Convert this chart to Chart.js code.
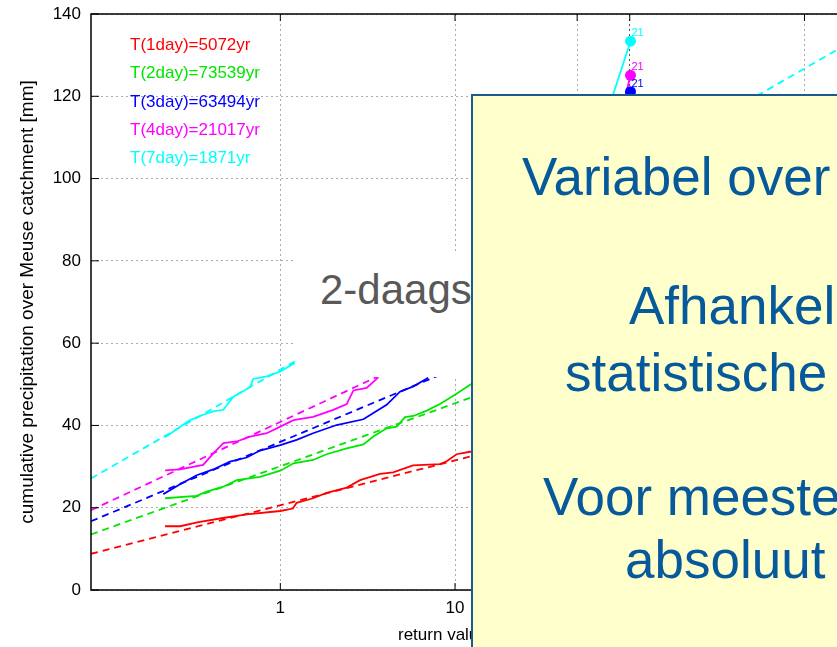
<!DOCTYPE html>
<html>
<head>
<meta charset="utf-8">
<script src="https://cdn.jsdelivr.net/npm/chart.js@4/dist/chart.umd.min.js"></script>
<style>
html, body { margin: 0; padding: 0; background: #fff; overflow: hidden; }
#wrap { position: relative; width: 837px; height: 647px; overflow: hidden; }
#chart { position: absolute; left: 0; top: 0; }
.cover { position: absolute; left: 295px; top: 251px; width: 200px; height: 126px; background: #fff; }
.note { position: absolute; left: 320px; top: 269px; font: 42px "Liberation Sans", Arial, sans-serif; line-height: 1; color: #595959; white-space: nowrap; }
.box { position: absolute; left: 471px; top: 94px; width: 420px; height: 600px; background: #ffffcc; border: 2px solid #1b5a8c; box-sizing: border-box; }
.t { position: absolute; font: 53px "Liberation Sans", Arial, sans-serif; line-height: 1; color: #06599a; white-space: nowrap; }
</style>
</head>
<body>
<div id="wrap">
  <canvas id="chart" width="850" height="647"></canvas>
  <div class="cover"></div>
  <div class="note">2-daags</div>
  <div class="box"></div>
  <div class="t" style="left:522px;top:150px">Variabel over</div>
  <div class="t" style="left:629px;top:279px">Afhankel</div>
  <div class="t" style="left:565px;top:346px">statistische</div>
  <div class="t" style="left:543px;top:470px">Voor meeste</div>
  <div class="t" style="left:625px;top:533px">absoluut</div>
</div>
<script>
Chart.defaults.font.family = "'Liberation Sans', Arial, sans-serif";
Chart.defaults.color = "#000";

const xMin = 0.0825, xMax = 1640;
const xTicks = [1, 10, 50, 100, 1000];
const xTickLabels = ["1", "10", "", "100", "1000"];

// empirical (solid) curves
const red1X = [0.219, 0.267, 0.34, 0.47, 0.642, 1.0, 1.18, 1.24, 1.54, 1.84, 2.4, 2.86, 3.72, 4.42, 5.75, 8.2, 8.96, 10.2, 12.2, 13];
const red1Y = [15.5, 15.5, 16.5, 17.5, 18.4, 19.2, 19.8, 21.2, 22.3, 23.6, 24.9, 26.7, 28.2, 28.6, 30.3, 30.6, 31.3, 33, 33.6, 34];
const green2X = [0.219, 0.332, 0.379, 0.472, 0.563, 0.765, 1.0, 1.19, 1.54, 1.84, 2.4, 2.99, 3.41, 4.06, 4.64, 5.17, 5.78, 6.89, 8.2, 10.2, 12.2, 13];
const green2Y = [22.3, 22.9, 23.9, 25.1, 26.7, 27.5, 29.0, 30.8, 31.6, 33.0, 34.4, 35.4, 37.3, 39.3, 39.7, 42.0, 42.3, 43.6, 45.2, 47.7, 49.9, 50.6];
const blue3X = [0.214, 0.267, 0.332, 0.413, 0.515, 0.643, 0.765, 1.0, 1.24, 1.54, 2.1, 2.99, 3.41, 4.06, 4.84, 5.78, 7.03];
const blue3Y = [23.3, 25.7, 27.9, 29.3, 31.2, 32.2, 33.9, 35.2, 36.5, 38.1, 40.1, 41.5, 43.0, 45.0, 48.2, 49.5, 51.6];
const mag4X = [0.219, 0.267, 0.362, 0.405, 0.472, 0.563, 0.671, 0.836, 1.0, 1.19, 1.54, 2.01, 2.4, 2.62, 3.12, 3.64];
const mag4Y = [29.1, 29.3, 30.4, 32.8, 35.7, 36.1, 37.3, 38.1, 39.7, 41.3, 42.1, 43.8, 45.2, 48.5, 49.1, 51.7];
const cyan7X = [0.219, 0.267, 0.304, 0.362, 0.413, 0.472, 0.538, 0.588, 0.671, 0.70, 0.836, 1.0, 1.21];
const cyan7Y = [37.1, 39.7, 41.3, 42.6, 43.4, 43.8, 47.0, 47.9, 49.3, 51.3, 51.9, 53.1, 55.2];

// fitted (dashed) lines, end points
const fitX = [0.0825, 2000];
const redFitY = [8.8, 56.6];
const greenFitY = [13.5, 80.6];
const blueFitY = [16.7, 94.8];
const magFitY = [19.4, 106.2];
const cyanFitY = [27.1, 134.1];

// the 2021 event ("21") for each duration
const cyan21X = [59.3, 101], cyan21Y = [103.3, 133.4];
const mag21X = [77.4, 101], mag21Y = [104.8, 125.1];
const blue21X = [80, 101], blue21Y = [100, 121.1];

const legendTexts = ["T(1day)=5072yr", "T(2day)=73539yr", "T(3day)=63494yr", "T(4day)=21017yr", "T(7day)=1871yr"];
const RED = "#ff0000", GREEN = "#00e600", BLUE = "#0000ff", MAG = "#ff00ff", CYAN = "#00ffff";
const legendColors = [RED, GREEN, BLUE, MAG, CYAN];

function pts(xs, ys) { return xs.map((x, i) => ({ x: x, y: ys[i] })); }

function solid(xs, ys, c) {
  return { data: pts(xs, ys), borderColor: c, borderWidth: 1.8, pointRadius: 0, tension: 0, fill: false };
}
function dashed(ys, c) {
  return { data: pts(fitX, ys), borderColor: c, borderWidth: 1.8, borderDash: [7, 5], pointRadius: 0, tension: 0, fill: false };
}
function event21(xs, ys, c) {
  return { data: pts(xs, ys), borderColor: c, backgroundColor: c, borderWidth: 1.8, pointRadius: [0, 5.5], pointBorderWidth: 0, tension: 0, fill: false, isEvent: true };
}

const frame = {
  id: "frame",
  afterDatasetsDraw(chart) {
    const { ctx, chartArea: a, scales } = chart;
    ctx.save();
    ctx.strokeStyle = "#000";
    ctx.lineWidth = 1.5;
    ctx.strokeRect(a.left, a.top, a.right - a.left, a.bottom - a.top);
    ctx.lineWidth = 1;
    ctx.beginPath();
    scales.y.ticks.forEach(t => {
      const y = scales.y.getPixelForValue(t.value);
      ctx.moveTo(a.left, y); ctx.lineTo(a.left + 8, y);
    });
    xTicks.forEach(v => {
      const x = scales.x.getPixelForValue(v);
      ctx.moveTo(x, a.top); ctx.lineTo(x, a.top + 7);
      ctx.moveTo(x, a.bottom); ctx.lineTo(x, a.bottom - 7);
    });
    ctx.stroke();

    // legend texts
    ctx.font = "17px 'Liberation Sans', Arial, sans-serif";
    ctx.textBaseline = "alphabetic";
    ctx.textAlign = "left";
    legendTexts.forEach((s, i) => {
      ctx.fillStyle = legendColors[i];
      ctx.fillText(s, a.left + 39, a.top + 36 + i * 28.3);
    });

    // "21" labels at the event points
    ctx.font = "11px 'Liberation Sans', Arial, sans-serif";
    chart.data.datasets.forEach(ds => {
      if (!ds.isEvent) return;
      const p = ds.data[ds.data.length - 1];
      ctx.fillStyle = ds.borderColor;
      ctx.fillText("21", scales.x.getPixelForValue(p.x) + 1, scales.y.getPixelForValue(p.y) - 5);
    });
    ctx.restore();
  }
};

new Chart(document.getElementById("chart"), {
  type: "line",
  data: {
    datasets: [
      event21(blue21X, blue21Y, BLUE),
      event21(mag21X, mag21Y, MAG),
      event21(cyan21X, cyan21Y, CYAN),
      solid(red1X, red1Y, RED),
      solid(green2X, green2Y, GREEN),
      solid(blue3X, blue3Y, BLUE),
      solid(mag4X, mag4Y, MAG),
      solid(cyan7X, cyan7Y, CYAN),
      dashed(redFitY, RED),
      dashed(greenFitY, GREEN),
      dashed(blueFitY, BLUE),
      dashed(magFitY, MAG),
      dashed(cyanFitY, CYAN)
    ]
  },
  options: {
    responsive: false,
    animation: false,
    layout: { padding: { top: 14, right: 8, left: 0, bottom: 0 } },
    plugins: { legend: { display: false }, tooltip: { enabled: false } },
    scales: {
      x: {
        type: "logarithmic",
        min: xMin,
        max: xMax,
        afterBuildTicks: s => { s.ticks = xTicks.map(v => ({ value: v })); },
        afterFit: s => { s.height = 57; },
        ticks: {
          autoSkip: false, maxRotation: 0, padding: 8, font: { size: 17 },
          callback: (v, i) => xTickLabels[i]
        },
        grid: {
          drawTicks: false,
          color: c => (c.tick && c.tick.value === 100) ? "#555" : "#aaa"
        },
        border: { display: false, dash: [2, 3] },
        title: { display: true, text: "return value [year]", font: { size: 17 }, padding: { top: 0, bottom: 1 } }
      },
      y: {
        min: 0,
        max: 140,
        afterFit: s => { s.width = 91; s.paddingTop = 0; s.paddingBottom = 0; },
        ticks: { stepSize: 20, padding: 10, font: { size: 17 } },
        grid: { drawTicks: false, color: "#aaa" },
        border: { display: false, dash: [2, 3] },
        title: { display: true, text: "cumulative precipitation over Meuse catchment [mm]", font: { size: 19 }, padding: { top: 16, bottom: 0 } }
      }
    }
  },
  plugins: [frame]
});
</script>
</body>
</html>
